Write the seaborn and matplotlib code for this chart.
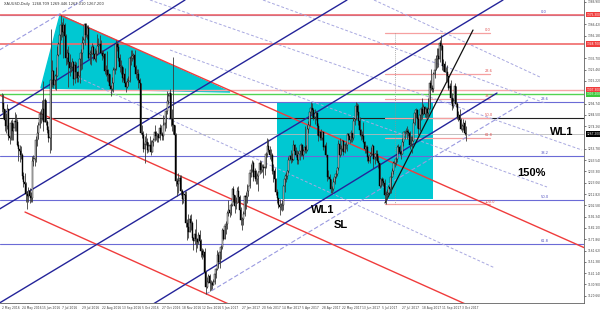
import numpy as np
import pandas as pd
import matplotlib
matplotlib.use("Agg")
import matplotlib.pyplot as plt
from matplotlib.patches import Polygon, Rectangle
import seaborn as sns

# ---------------- data: XAUUSD daily, 2 May 2016 .. 6 Oct 2017 (bar index 0..371)
close = [
1295,1290,1280,1274,1290, 1265,1264,1277,1270,1273, 1279,1278,1257,1254,1252,
1248,1229,1224,1222,1213, 1211,1216,1211,1209,1243, 1245,1245,1262,1268,1275,
1285,1285,1290,1278,1298, 1278,1271,1264,1264,1316, 1324,1312,1316,1320,1339,
1349,1357,1366,1360,1366, 1356,1336,1341,1332,1327, 1328,1332,1317,1330,1323,
1318,1320,1335,1341,1350, 1352,1367,1357,1363,1336, 1340,1340,1346,1340,1335,
1340,1347,1348,1349,1341, 1338,1340,1324,1325,1321, 1322,1311,1308,1313,1325,
1326,1349,1346,1336,1328, 1328,1318,1322,1313,1310, 1314,1315,1336,1336,1338,
1339,1328,1322,1322,1316, 1313,1268,1266,1254,1258, 1260,1253,1256,1257,1251,
1260,1262,1269,1265,1267, 1264,1273,1267,1265,1275, 1277,1288,1297,1302,1304,
1281,1275,1275,1266,1225, 1222,1225,1227,1216,1208, 1213,1212,1187,1183,1178,
1190,1187,1173,1170,1177, 1172,1169,1176,1170,1161, 1158,1160,1142,1129,1133,
1139,1132,1132,1130,1133, 1140,1145,1158,1151, 1160,1165,1180,1172,
1184,1186,1196,1198,1196, 1203,1217,1212,1202,1205, 1216,1210,1198,1189,1190,
1195,1211,1210,1216,1220, 1232,1235,1241,1228,1234, 1226,1229,1233,1241,1235,
1237,1236,1237,1249,1256, 1253,1248,1248,1234,1234, 1226,1215,1209,1203,1201,
1203,1203,1220,1226,1229, 1234,1244,1247,1245,1244, 1257,1252,1248,1244,1249,
1252,1257,1248,1252,1255, 1253,1272,1275,1287,
1291,1289,1282,1283,1286, 1274,1265,1269,1264,1269, 1255,1256,1248,1228,1228,
1226,1217,1217,1224,1228, 1231,1236,1258,1248,1254, 1261,1251,1257,1257,1267,
1265,1262,1268,1264,1279, 1281,1293,1287,1279,1271, 1266,1265,1260,1254,1255,
1246,1243,1247,1249,1256, 1245,1246,1249,1243,1241, 1220,1226,1225,1223,1212,
1213,1214,1219,1217,1228, 1234,1241,1241,1245,1255, 1255,1251,1249,1260,1269,
1269,1270,1269,1268,1257, 1258,1261,1277,1286,1289, 1281,1272,1284,1290,1285,
1292,1285,1290,1286,1290, 1313,1309,1308,1322,1325, 1335,1338,1335,1350,1347,
1329,1331,1323,1323,1320, 1309,1311,1300,1293,1297, 1311,1294,1283,1284,1280,
1272,1274,1277,1268,1267,
]
high = [
1304,1303,1290,1286,1294, 1290,1270,1280,1281,1277, 1287,1285,1281,1261,1257,
1256,1250,1233,1232,1224, 1216,1219,1218,1215,1247, 1248,1250,1265,1275,1278,
1288,1290,1298,1315,1300, 1293,1280,1274,1271,1362, 1334,1325,1322,1328,1347,
1351,1358,1375,1369,1372, 1368,1358,1344,1347,1340, 1332,1336,1333,1333,1332,
1323,1324,1341,1344,1356, 1355,1368,1368,1366,1366, 1343,1347,1350,1348,1345,
1343,1358,1354,1357,1352, 1343,1343,1341,1330,1342, 1326,1322,1312,1319,1328,
1328,1352,1351,1350,1340, 1334,1330,1328,1327,1315, 1318,1320,1338,1343,1343,
1341,1343,1330,1326,1326, 1318,1313,1275,1270,1265, 1268,1264,1260,1265,1262,
1262,1264,1275,1270,1268, 1267,1276,1275,1269,1284, 1278,1289,1306,1304,1308,
1285,1290,1337,1275,1268, 1227,1232,1230,1230,1217, 1215,1216,1216,1190,1195,
1194,1195,1188,1174,1181, 1190,1173,1178,1180,1172, 1164,1163,1164,1143,1138,
1140,1140,1135,1134,1136, 1142,1146,1162,1160, 1163,1167,1182,1180,
1186,1188,1197,1207,1200, 1205,1218,1220,1212,1210, 1219,1220,1212,1201,1192,
1197,1212,1215,1222,1220, 1233,1240,1244,1243,1236, 1235,1232,1234,1244,1243,
1240,1240,1242,1251,1264, 1263,1256,1254,1250,1240, 1236,1227,1217,1209,1208,
1205,1207,1221,1231,1233, 1235,1246,1248,1253,1250, 1262,1258,1255,1253,1252,
1256,1259,1258,1254,1274, 1257,1275,1279,1290,
1296,1295,1291,1290,1288, 1287,1277,1270,1272,1269, 1269,1258,1260,1240,1235,
1231,1226,1220,1227,1231, 1235,1237,1262,1264,1257, 1262,1262,1259,1260,1268,
1268,1265,1271,1268,1283, 1283,1296,1295,1294,1283, 1272,1270,1278,1261,1257,
1257,1248,1251,1255,1258, 1257,1250,1253,1253,1247, 1240,1227,1228,1227,1226,
1216,1217,1221,1222,1233, 1236,1243,1244,1246,1257, 1258,1257,1252,1264,1269,
1270,1273,1274,1272,1270, 1265,1265,1282,1290,1291, 1290,1283,1285,1292,1300,
1294,1293,1292,1292,1300, 1316,1326,1312,1323,1330, 1339,1345,1345,1352,1357,
1349,1335,1333,1328,1330, 1319,1313,1316,1304,1300, 1313,1311,1296,1288,1290,
1282,1276,1281,1280,1274,
]
low = [
1287,1282,1270,1268,1272, 1262,1258,1262,1262,1262, 1270,1270,1256,1243,1242,
1245,1226,1219,1215,1206, 1199,1206,1205,1206,1206, 1238,1238,1242,1256,1263,
1273,1277,1280,1270,1280, 1275,1268,1260,1250,1253, 1310,1309,1308,1307,1320,
1338,1340,1352,1355,1336, 1351,1330,1331,1310,1320, 1323,1325,1312,1313,1318,
1314,1314,1313,1325,1326, 1344,1348,1355,1353,1335, 1331,1330,1340,1334,1333,
1332,1339,1341,1343,1340, 1334,1336,1322,1320,1315, 1314,1310,1302,1306,1305,
1322,1325,1342,1333,1323, 1322,1314,1316,1312,1305, 1309,1311,1314,1330,1333,
1335,1327,1318,1316,1309, 1309,1267,1264,1251,1241, 1257,1250,1251,1253,1248,
1251,1256,1261,1262,1260, 1260,1262,1266,1262,1262, 1270,1273,1285,1294,1296,
1274,1270,1267,1244,1220, 1211,1214,1221,1212,1204, 1205,1207,1183,1171,1173,
1178,1180,1171,1162,1168, 1160,1164,1168,1162,1156, 1154,1156,1138,1122,1128,
1132,1125,1126,1127,1130, 1131,1137,1144,1146, 1146,1154,1163,1171,
1172,1177,1181,1193,1192, 1194,1202,1206,1196,1199, 1206,1206,1196,1185,1180,
1185,1193,1199,1205,1211, 1218,1228,1233,1225,1225, 1222,1222,1216,1231,1232,
1233,1227,1230,1236,1246, 1251,1245,1243,1231,1224, 1223,1212,1205,1200,1194,
1198,1197,1198,1215,1224, 1226,1232,1244,1241,1242, 1247,1250,1246,1240,1240,
1244,1247,1247,1245,1250, 1250,1252,1268,1274,
1285,1283,1280,1276,1280, 1266,1261,1262,1262,1262, 1253,1251,1246,1225,1226,
1223,1214,1214,1216,1222, 1227,1229,1235,1246,1248, 1252,1248,1250,1254,1252,
1262,1259,1260,1260,1262, 1275,1280,1284,1275,1265, 1262,1263,1259,1250,1250,
1243,1241,1241,1247,1248, 1236,1240,1244,1242,1236, 1218,1219,1221,1220,1207,
1204,1208,1212,1214,1214, 1228,1231,1237,1239,1242, 1250,1248,1245,1249,1256,
1263,1267,1263,1265,1254, 1256,1250,1263,1275,1282, 1273,1266,1270,1280,1281,
1284,1283,1282,1283,1282, 1290,1307,1305,1305,1318, 1325,1327,1328,1332,1343,
1325,1324,1323,1315,1314, 1307,1307,1295,1289,1291, 1294,1292,1281,1279,1278,
1271,1269,1271,1266,1261,
]
date_labels = ["2 May 2016", "24 May 2016", "15 Jun 2016", "7 Jul 2016", "29 Jul 2016",
               "22 Aug 2016", "13 Sep 2016", "5 Oct 2016", "27 Oct 2016", "18 Nov 2016",
               "12 Dec 2016", "5 Jan 2017", "27 Jan 2017", "20 Feb 2017", "14 Mar 2017",
               "5 Apr 2017", "28 Apr 2017", "22 May 2017", "13 Jun 2017", "5 Jul 2017",
               "27 Jul 2017", "18 Aug 2017", "11 Sep 2017", "3 Oct 2017"]
bars_per_label = 16

# horizontal levels
red_levels = [1375.3, 1348.7]
pink_level = 1307.3
green_level = 1303.2
blue_fib_levels = [1375.3, 1296.2, 1247.3, 1207.4, 1167.5]
blue_fib_names = ["0.0", "23.6", "38.2", "50.0", "61.8"]
black_level = 1281.8
last_price = 1267.2
# short Fibonacci (Jul-2017 low -> Sep-2017 high)
fib2_levels = [1358.7, 1321.5, 1299.0, 1281.7, 1263.6, 1203.5]
fib2_names = ["0.0", "23.6", "38.2", "50.0", "61.8", "100.0"]
fib2_span = [306, 390]

# drawn objects (bar index, price)
navy_lines = [[(-2, 1283.5), (146.4, 1388.6)],
              [(-2, 1199.2), (276.0, 1388.6)],
              [(-2, 1114.1), (400.8, 1388.6)],
              [(118.4, 1111.4), (396.0, 1304.3)]]
lav_rising = [[(-2, 1343.3), (64.8, 1388.6)],
              [(163.0, 1122.0), (420.8, 1298.0)]]
lav_falling = [[(58.4, 1319.7), (394.4, 1145.8)],
               [(134.4, 1343.3), (436.0, 1219.2)],
               [(118.4, 1388.6), (464.0, 1252.7)],
               [(208.8, 1388.6), (434.4, 1295.3)],
               [(297.6, 1388.6), (430.4, 1318.8)]]
red_lines = [[(46.4, 1375.0), (466.4, 1163.9)],
             [(-2, 1302.5), (376.0, 1110.5)],
             [(18.4, 1196.5), (184.8, 1111.4)]]
black_lines = [[(306.4, 1204.7), (376.8, 1361.4)]]
triangle = [(46.4, 1375.0), (31.2, 1308.9), (182.4, 1305.2)]
box = [(220.0, 1208.3), (344.8, 1296.2)]
fib_vertical = [(314.4, 1358.7), (314.4, 1203.5)]

annotations = [("WL1", 247.5, 1198.0), ("SL", 265.5, 1185.0),
               ("150%", 412.0, 1232.0), ("WL1", 438.0, 1269.0)]

# ---------------- drawing
sns.set_theme(style="white")
plt.rcParams['font.family'] = ['DejaVu Sans']

n = len(close)
idx = np.arange(n)
opens = np.array([close[0]] + close[:-1], dtype=float)
c = np.array(close, dtype=float)
hi = np.maximum(np.array(high, float), np.maximum(opens, c))
lo = np.minimum(np.array(low, float), np.minimum(opens, c))
df = pd.DataFrame({"bar": idx, "open": opens, "close": c, "high": hi, "low": lo})

fig = plt.figure(figsize=(6.0, 3.13), dpi=100)
ax = fig.add_axes([0.0, 10 / 313, 584 / 600, 303 / 313])
ymax, ymin = 1388.6, 1114.1
xmin, xmax = -1.6, 465.6
ax.set_xlim(xmin, xmax)
ax.set_ylim(ymin, ymax)

# filled shapes
ax.add_patch(Polygon(triangle, closed=True, facecolor="#00c8d2", edgecolor="#00c8d2", zorder=1))
(x0, y0), (x1, y1) = box
ax.add_patch(Rectangle((x0, y0), x1 - x0, y1 - y0, facecolor="#00c8d2", edgecolor="none", zorder=1))

# full width horizontal lines
for lv in blue_fib_levels:
    ax.axhline(lv, color="#6b6bd6", lw=0.8, zorder=2)
for lv in red_levels:
    ax.axhline(lv, color="#f06a6a", lw=1.2, zorder=2)
ax.axhline(pink_level, color="#f6a6a6", lw=1.0, zorder=2)
ax.axhline(green_level, color="#52d452", lw=1.0, zorder=2)
ax.axhline(black_level, color="#202020", lw=0.8, zorder=2)
ax.axhline(last_price, color="#b8b8b8", lw=0.6, zorder=2)

for lv, nm in zip(blue_fib_levels, blue_fib_names):
    ax.text(431, lv + 0.6, nm, fontsize=2.6, color="#5050c0", ha="left", va="bottom", zorder=6)

# short fib
for lv, nm in zip(fib2_levels, fib2_names):
    ax.plot(fib2_span, [lv, lv], color="#f6a0a0", lw=0.9, zorder=2)
    ax.text(fib2_span[1] - 4, lv + 0.6, nm, fontsize=2.6, color="#e05050", ha="left", va="bottom", zorder=6)
ax.plot([p[0] for p in fib_vertical], [p[1] for p in fib_vertical], color="#909090",
        lw=0.6, ls=(0, (1, 1.5)), zorder=2)

# diagonal lines
for seg in lav_falling:
    ax.plot([p[0] for p in seg], [p[1] for p in seg], color="#a8a8e0", lw=0.7, ls=(0, (3, 2)), zorder=2)
for seg in lav_rising:
    ax.plot([p[0] for p in seg], [p[1] for p in seg], color="#9a9ae0", lw=0.8, ls=(0, (4, 2)), zorder=2)
for seg in red_lines:
    ax.plot([p[0] for p in seg], [p[1] for p in seg], color="#f03c3c", lw=1.0, zorder=3)
for seg in navy_lines:
    ax.plot([p[0] for p in seg], [p[1] for p in seg], color="#24249a", lw=1.0, zorder=3)
seg_df = pd.DataFrame({"bar": [p[0] for p in black_lines[0]], "price": [p[1] for p in black_lines[0]]})
sns.lineplot(data=seg_df, x="bar", y="price", color="#111111", lw=0.9, ax=ax, zorder=4)

# candles
ax.vlines(df["bar"], df["low"], df["high"], color="#3a3a3a", lw=0.6, zorder=5)
body_lo = np.minimum(df["open"], df["close"])
body_h = np.abs(df["close"] - df["open"]).clip(lower=0.4)
up = df["close"] >= df["open"]
ax.bar(df["bar"][up], body_h[up], bottom=body_lo[up], width=0.8, color="white",
       edgecolor="black", linewidth=0.3, zorder=5)
ax.bar(df["bar"][~up], body_h[~up], bottom=body_lo[~up], width=0.8, color="black",
       edgecolor="black", linewidth=0.3, zorder=5)

# text annotations
for t, bx, py in annotations:
    ax.text(bx, py, t, fontsize=8, fontweight="bold", color="black",
            family=["Liberation Sans", "DejaVu Sans"], ha="left", va="center", zorder=7)
ax.text(2, ymax - 1.5, "XAUUSD,Daily  1268.709 1269.446 1267.010 1267.200", fontsize=2.6,
        color="#333333", ha="left", va="top", zorder=7)

# axes styling
for s in ["left", "top"]:
    ax.spines[s].set_visible(False)
for s in ["right", "bottom"]:
    ax.spines[s].set_color("#606060")
    ax.spines[s].set_linewidth(0.6)
xt = [i * bars_per_label for i in range(len(date_labels))]
ax.set_xticks(xt)
ax.set_xticklabels(date_labels, fontsize=2.2, ha="left")
ax.yaxis.tick_right()
box_levels = [red_levels[0], red_levels[1], pink_level, green_level, last_price]
yt = [v for v in np.arange(1386.9, 1114.0, -10.24) if min(abs(v - b) for b in box_levels) > 4.5]
ax.set_yticks(yt)
ax.set_yticklabels([f"{v:.3f}" for v in yt], fontsize=2.1)
ax.tick_params(axis="both", length=1.5, width=0.5, pad=0.8, colors="#404040")
ax.set_xlabel("")
ax.set_ylabel("")

# price boxes on axis
boxes = [(red_levels[0], "#f03c3c", "white"), (red_levels[1], "#f03c3c", "white"),
         (pink_level, "#f03c3c", "white"), (green_level, "#3cc83c", "white"),
         (last_price, "black", "white")]
for lv, bg, fg in boxes:
    ax.text(1.004, (lv - ymin) / (ymax - ymin), f"{lv:.3f}", transform=ax.transAxes,
            fontsize=2.1, color=fg, ha="left", va="center", zorder=8, clip_on=False,
            bbox=dict(boxstyle="square,pad=0.2", fc=bg, ec="none"))

fig.savefig("out.png", dpi=100)
